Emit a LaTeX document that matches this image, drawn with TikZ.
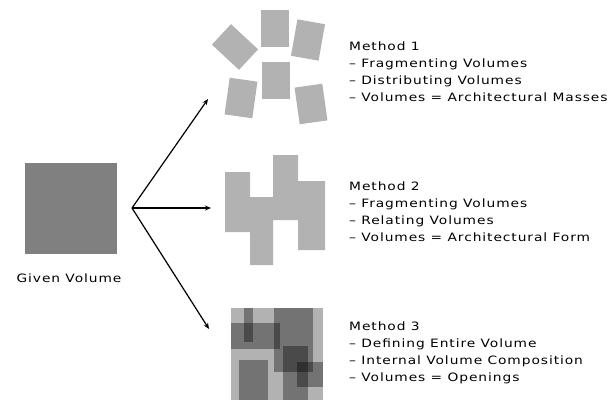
\documentclass[tikz,border=0pt]{standalone}
\usepackage{fontspec}
\setmainfont[FakeStretch=1.2,LetterSpace=8]{DejaVu Sans}
\usetikzlibrary{arrows.meta}
\definecolor{lightvol}{gray}{0.70}
\definecolor{givenvol}{gray}{0.50}
\begin{document}
\begin{tikzpicture}[x={(1pt,0)},y={(0,-1pt)},
    piece/.style={fill=lightvol,minimum width=28pt,minimum height=37pt,inner sep=0pt},
    shade/.style={fill=black,fill opacity=0.35},
    methodtext/.style={anchor=base west,align=left,inner sep=0pt,
      font=\fontsize{11.5}{16.7}\selectfont},
    arr/.style={line width=1.2pt,-{Stealth[length=6pt,width=5pt]}}]
  \useasboundingbox (0,0) rectangle (616,400);
  % given volume
  \node[fill=givenvol,minimum width=92pt,minimum height=91pt,inner sep=0pt] (given) at (71,208.5) {};
  \node[anchor=base,inner sep=0pt,font=\fontsize{11.5}{14}\selectfont] (givenlabel) at (69,282) {Given Volume};
  % arrows
  \coordinate (fork) at (132,208);
  \coordinate (to1) at (208,99);
  \coordinate (to2) at (211,208);
  \coordinate (to3) at (209,329);
  \foreach \t in {to1,to2,to3}
    \draw[arr] (fork) -- (\t);
  % method 1: scattered pieces
  \foreach \cx/\cy/\ang [count=\i] in {275/28.5/0, 276/80.5/0, 308/40/-10, 235/47/47, 241/98/-8, 311/104/8}
    \node[piece,rotate=\ang] (piece-\i) at (\cx,\cy) {};
  % method 2: joined pieces
  \fill[lightvol] (225,172) -- (250,172) -- (250,197) -- (273,197) -- (273,155) -- (298,155)
    -- (298,181) -- (325,181) -- (325,250) -- (298,250) -- (298,220) -- (273,220)
    -- (273,265) -- (250,265) -- (250,232) -- (225,232) -- cycle;
  % method 3: volume with openings
  \fill[lightvol] (231,308) rectangle (323,400);
  \fill[shade] (244,308) rectangle (253,342);
  \fill[shade] (231,323) rectangle (280,349);
  \fill[shade] (274,308) rectangle (313,372);
  \fill[shade] (283,346) rectangle (308,400);
  \fill[shade] (297,362) rectangle (323,387);
  \fill[shade] (239,360) rectangle (268,400);
  % texts (anchored at the last line)
  \node[methodtext] (method1) at (349,101) {Method 1\\– Fragmenting Volumes\\– Distributing Volumes\\– Volumes = Architectural Masses};
  \node[methodtext] (method2) at (349,241) {Method 2\\– Fragmenting Volumes\\– Relating Volumes\\– Volumes = Architectural Form};
  \node[methodtext] (method3) at (349,381) {Method 3\\– Defining Entire Volume\\– Internal Volume Composition\\– Volumes = Openings};
\end{tikzpicture}
\end{document}
